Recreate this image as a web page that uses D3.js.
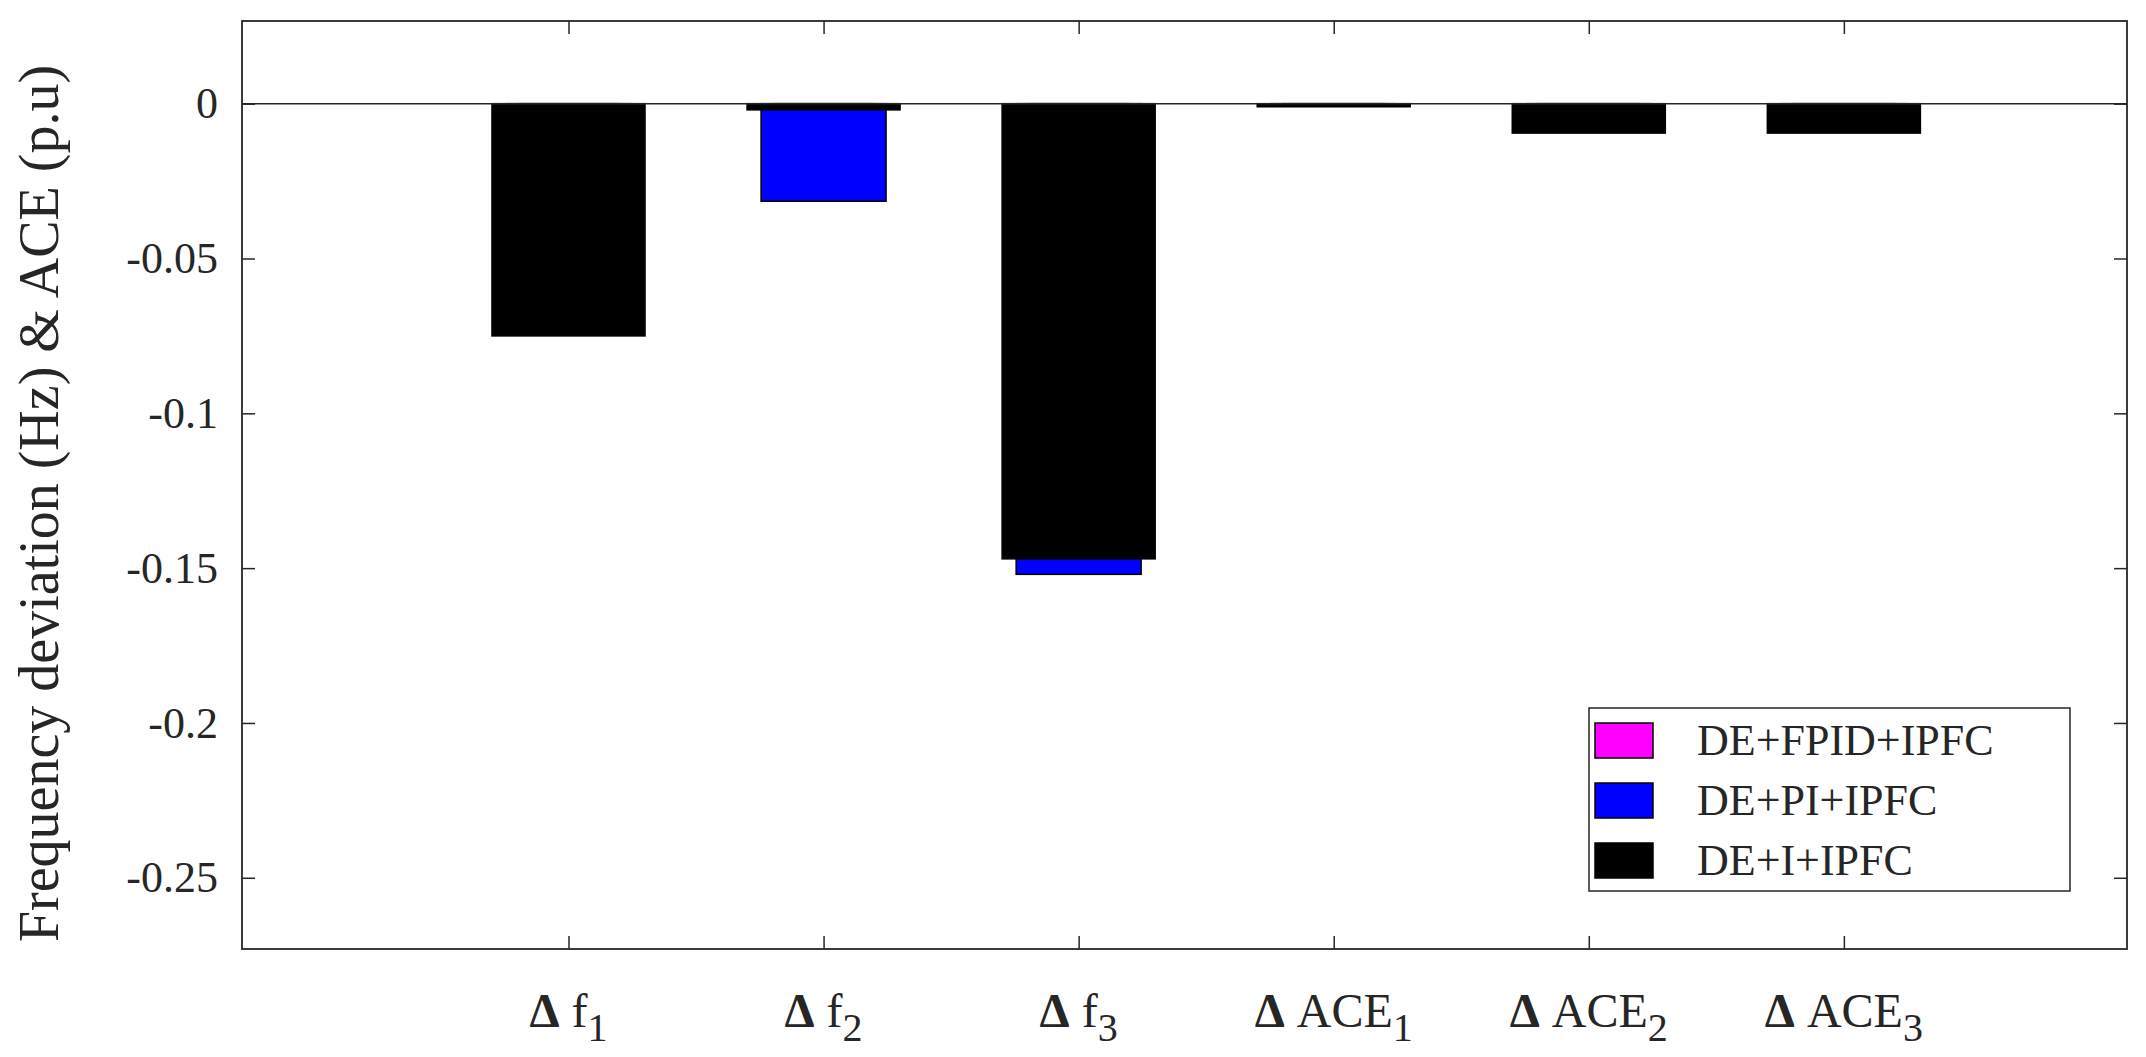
<!DOCTYPE html>
<html>
<head>
<meta charset="utf-8">
<script src="https://cdn.jsdelivr.net/npm/d3@7"></script>
<style>
  body { margin: 0; background: #fff; }
  svg text { font-family: "Liberation Serif", "DejaVu Serif", serif !important; fill: #262626; }
</style>
</head>
<body>
<div id="chart"></div>
<script>
// Data
const categories = ["f", "f", "f", "ACE", "ACE", "ACE"];
const subscripts = ["1", "2", "3", "1", "2", "3"];
const seriesNames = ["DE+FPID+IPFC", "DE+PI+IPFC", "DE+I+IPFC"];
const seriesColors = ["#ff00ff", "#0000ff", "#000000"];
const fpidValues = [-0.001, -0.0008, -0.002, -0.0002, -0.0005, -0.0005];
const piValues = [-0.07, -0.0315, -0.152, -0.0008, -0.008, -0.008];
const iValues = [-0.075, -0.002, -0.147, -0.001, -0.0095, -0.0095];
const yTicks = [0, -0.05, -0.1, -0.15, -0.2, -0.25];
const yTickLabels = ["0", "-0.05", "-0.1", "-0.15", "-0.2", "-0.25"];

const W = 2146, H = 1057;
const margin = { top: 21, right: 19, bottom: 108, left: 242 };
const width = W - margin.left - margin.right,
      height = H - margin.top - margin.bottom;
const serif = "'Liberation Serif', 'DejaVu Serif', serif";

const svg = d3.select("#chart").append("svg")
    .attr("width", W).attr("height", H)
    .attr("font-family", serif)
    .append("g")
    .attr("transform", `translate(${margin.left},${margin.top})`);

const x = d3.scaleLinear().domain([-0.28, 7.11]).range([0, width]);
const y = d3.scaleLinear().domain([-0.273, 0.0267]).range([height, 0]);

// bars: FPID first, PI, then I on top (widest)
const series = [
  { values: fpidValues, w: 0.4 },
  { values: piValues, w: 0.49 },
  { values: iValues, w: 0.6 }
];
series.forEach((s, si) => {
  svg.selectAll(".bar" + si)
    .data(s.values)
    .enter().append("rect")
    .attr("x", (d, i) => x(i + 1 - s.w / 2))
    .attr("width", x(s.w) - x(0))
    .attr("y", y(0))
    .attr("height", d => y(d) - y(0))
    .attr("fill", seriesColors[si])
    .attr("stroke", "#000")
    .attr("stroke-width", 1.5);
});

// zero line
svg.append("line")
  .attr("x1", 0).attr("x2", width)
  .attr("y1", y(0)).attr("y2", y(0))
  .attr("stroke", "#262626").attr("stroke-width", 1.5);

// axes
const tickLen = 13;
const yAxis = svg.append("g")
  .call(d3.axisLeft(y).tickValues(yTicks).tickSize(-tickLen).tickPadding(24)
    .tickFormat((d, i) => yTickLabels[i]));
svg.append("g").attr("transform", `translate(${width},0)`)
  .call(d3.axisRight(y).tickValues(yTicks).tickSize(-tickLen).tickFormat(""));
svg.append("g").attr("transform", `translate(0,${height})`)
  .call(d3.axisBottom(x).tickValues([1, 2, 3, 4, 5, 6]).tickSize(-tickLen).tickFormat(""));
svg.append("g")
  .call(d3.axisTop(x).tickValues([1, 2, 3, 4, 5, 6]).tickSize(-tickLen).tickFormat(""));
svg.selectAll(".domain").remove();
svg.selectAll(".tick line").attr("stroke", "#262626").attr("stroke-width", 1.5);
svg.selectAll("g").attr("font-family", serif);
yAxis.selectAll("text").attr("font-size", 44).attr("fill", "#262626");

svg.append("rect")
  .attr("width", width).attr("height", height)
  .attr("fill", "none").attr("stroke", "#262626").attr("stroke-width", 1.8);

// category labels
categories.forEach((c, i) => {
  const t = svg.append("text")
    .attr("x", x(i + 1))
    .attr("y", height + 78)
    .attr("text-anchor", "middle")
    .attr("font-size", 48);
  t.append("tspan").attr("font-weight", "bold").text("\u0394");
  t.append("tspan").text(" " + c);
  t.append("tspan").attr("dy", 14).attr("font-size", 40).text(subscripts[i]);
});

// y label
svg.append("text")
  .attr("transform", "rotate(-90)")
  .attr("x", -(H - 50) / 2 + margin.top)
  .attr("y", -184)
  .attr("text-anchor", "middle")
  .attr("font-size", 56)
  .text("Frequency deviation (Hz) & ACE (p.u)");

// legend
const lg = svg.append("g").attr("transform", `translate(${1589 - margin.left},${708 - margin.top})`);
lg.append("rect").attr("width", 481).attr("height", 183)
  .attr("fill", "#fff").attr("stroke", "#262626").attr("stroke-width", 1.5);
seriesNames.forEach((n, i) => {
  const row = lg.append("g").attr("transform", `translate(0,${32 + i * 60})`);
  row.append("rect").attr("x", 6).attr("y", -17).attr("width", 58).attr("height", 35)
    .attr("fill", seriesColors[i]).attr("stroke", "#000").attr("stroke-width", 1.5);
  row.append("text").attr("x", 108).attr("y", 15)
    .attr("font-size", 44).text(n);
});
</script>
</body>
</html>
